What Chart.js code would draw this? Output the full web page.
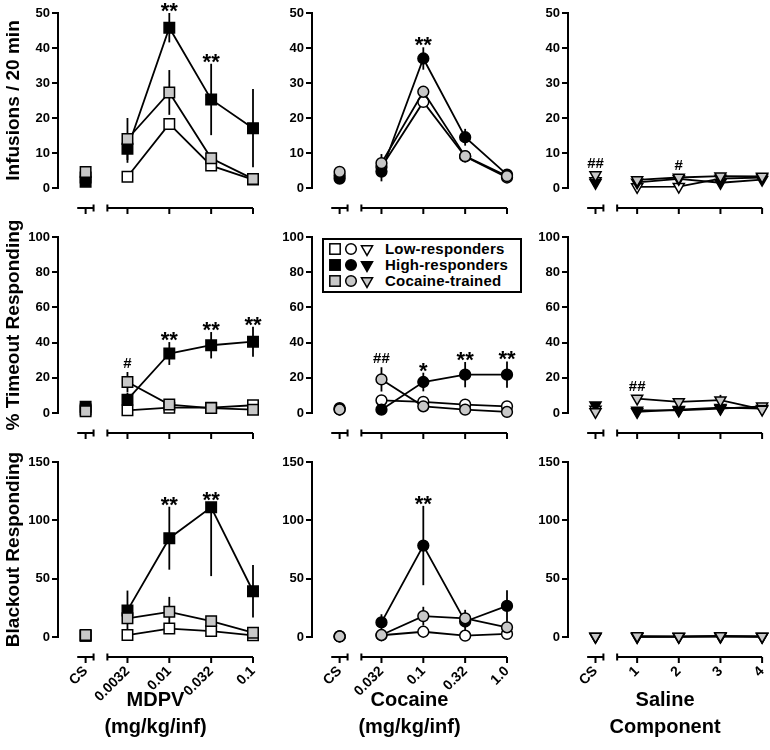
<!DOCTYPE html>
<html>
<head>
<meta charset="utf-8">
<script src="https://cdn.jsdelivr.net/npm/chart.js@4.4.1/dist/chart.umd.min.js"></script>
<style>
  html, body { margin: 0; padding: 0; background: #fff; }
  body { width: 770px; height: 750px; position: relative; overflow: hidden; font-family: 'Liberation Sans', Arial, Helvetica, sans-serif; }
  canvas { position: absolute; }
  #legend { position: absolute; left: 322px; top: 238px; width: 196px; height: 51px; border: 2px solid #000; background: #fff; z-index: 5; }
  #legend .lt { position: absolute; left: 61px; height: 18px; line-height: 18px; font-weight: bold; font-size: 15px; color: #000; white-space: nowrap; letter-spacing: 0.2px; }
  #legend svg { position: absolute; left: 0; top: 0; }
</style>
</head>
<body>
<div id="legend"></div>
<script>
// ---------- categories ----------
const mdpvCats = ['CS', '0.0032', '0.01', '0.032', '0.1'];
const cocCats  = ['CS', '0.032', '0.1', '0.32', '1.0'];
const salCats  = ['CS', '1', '2', '3', '4'];
const groupNames = ['Low-responders', 'High-responders', 'Cocaine-trained'];
const yTitles = ['Infusions / 20 min', '% Timeout Responding', 'Blackout Responding'];
const xTitles = [['MDPV', '(mg/kg/inf)'], ['Cocaine', '(mg/kg/inf)'], ['Saline', 'Component']];
const yMaxes = [50, 100, 150];
const ySteps = [10, 20, 50];

// ---------- Row 1: Infusions / 20 min ----------
const mdpvInfLow     = [3.0, 3.2, 18.3, 6.4, 2.4];
const mdpvInfLowErr  = [0.5, 1.2, 1.6, 0.8, 0.4];
const mdpvInfHigh    = [1.8, 11.2, 45.8, 25.3, 17.1];
const mdpvInfHighErr = [0.6, 4.0, 4.2, 10.2, 11.2];
const mdpvInfCoc     = [4.6, 14.0, 27.3, 8.5, 2.6];
const mdpvInfCocErr  = [0.8, 6.0, 6.4, 1.5, 0.5];
const mdpvInfHighSig = ['', '', '**', '**', ''];

const cocInfLow     = [3.6, 6.0, 24.6, 9.0, 3.0];
const cocInfLowErr  = [0.5, 1.0, 1.5, 0.8, 0.4];
const cocInfHigh    = [2.7, 4.7, 37.0, 14.5, 3.8];
const cocInfHighErr = [0.5, 2.8, 3.2, 2.4, 0.8];
const cocInfCoc     = [4.6, 7.1, 27.5, 9.1, 3.4];
const cocInfCocErr  = [0.5, 2.6, 1.5, 0.8, 0.5];
const cocInfHighSig = ['', '', '**', '', ''];

const salInfLow     = [2.0, 0.3, 0.4, 2.7, 3.0];
const salInfLowErr  = [0.5, 0.3, 0.3, 0.5, 0.5];
const salInfHigh    = [1.5, 1.6, 2.6, 1.5, 2.4];
const salInfHighErr = [1.4, 0.5, 0.5, 0.5, 0.5];
const salInfCoc     = [3.7, 2.3, 3.0, 3.4, 3.3];
const salInfCocErr  = [0.5, 0.5, 0.5, 0.5, 0.5];
const salInfCocSig  = ['##', '', '#', '', ''];

// ---------- Row 2: % Timeout Responding ----------
const mdpvToLow     = [2.0, 1.5, 3.0, 3.0, 4.4];
const mdpvToLowErr  = [0.5, 1.0, 1.0, 0.5, 1.0];
const mdpvToHigh    = [3.5, 7.6, 33.8, 38.5, 40.5];
const mdpvToHighErr = [1.0, 4.0, 6.5, 7.5, 8.5];
const mdpvToCoc     = [1.0, 17.6, 4.8, 2.8, 1.9];
const mdpvToCocErr  = [0.5, 5.7, 1.5, 0.5, 0.5];
const mdpvToHighSig = ['', '', '**', '**', '**'];
const mdpvToCocSig  = ['', '#', '', '', ''];

const cocToLow     = [2.0, 7.2, 6.3, 4.8, 3.8];
const cocToLowErr  = [0.5, 3.0, 1.0, 1.0, 1.0];
const cocToHigh    = [2.8, 1.9, 17.6, 21.8, 21.8];
const cocToHighErr = [0.5, 0.5, 5.3, 7.2, 7.5];
const cocToCoc     = [2.0, 19.1, 3.8, 1.9, 0.6];
const cocToCocErr  = [0.5, 6.9, 1.0, 0.5, 0.5];
const cocToHighSig = ['', '', '*', '**', '**'];
const cocToCocSig  = ['', '##', '', '', ''];

const salToLow     = [2.0, 1.5, 1.5, 2.5, 3.8];
const salToLowErr  = [0.5, 0.5, 0.5, 0.5, 0.5];
const salToHigh    = [4.4, 0.6, 1.9, 3.0, 2.5];
const salToHighErr = [1.0, 0.5, 0.5, 1.5, 0.5];
const salToCoc     = [0.6, 8.2, 6.3, 7.3, 2.0];
const salToCocErr  = [0.5, 1.0, 1.0, 3.0, 0.5];
const salToCocSig  = ['', '##', '', '', ''];

// ---------- Row 3: Blackout Responding ----------
const mdpvBoLow     = [1.0, 1.7, 7.2, 5.1, 1.4];
const mdpvBoLowErr  = [0.5, 1.0, 2.0, 2.0, 1.0];
const mdpvBoHigh    = [1.0, 22.8, 84.7, 111.2, 39.2];
const mdpvBoHighErr = [0.5, 17.0, 27.0, [59.0, 0], 22.5];   // [down, up]
const mdpvBoCoc     = [1.7, 16.0, 21.6, 13.6, 3.7];
const mdpvBoCocErr  = [0.5, 3.0, 12.8, 4.0, 1.0];
const mdpvBoHighSig = ['', '', '**', '**', ''];

const cocBoLow     = [0.5, 1.5, 4.5, 1.1, 2.6];
const cocBoLowErr  = [0.3, 0.5, 1.5, 0.5, 1.0];
const cocBoHigh    = [0.5, 12.5, 78.4, 13.3, 26.6];
const cocBoHighErr = [0.3, 7.0, 34.0, 10.0, 13.5];
const cocBoCoc     = [0.5, 1.7, 17.9, 16.0, 8.3];
const cocBoCocErr  = [0.3, 1.0, 8.0, 4.0, 3.0];
const cocBoHighSig = ['', '', '**', '', ''];

const salBoLow     = [0.2, 0.1, 0.1, 0.3, 0.2];
const salBoLowErr  = [0.2, 0.2, 0.2, 0.2, 0.2];
const salBoHigh    = [0.3, 0.2, 0.3, 0.5, 0.3];
const salBoHighErr = [0.2, 0.2, 0.2, 0.2, 0.2];
const salBoCoc     = [0.5, 0.8, 0.5, 1.0, 0.5];
const salBoCocErr  = [0.3, 0.3, 0.3, 0.3, 0.3];

// ---------- panel table ----------
const colCats = [mdpvCats, cocCats, salCats];
const panelSeries = [
  [ // row 0
    [[mdpvInfLow, mdpvInfLowErr, null], [mdpvInfHigh, mdpvInfHighErr, mdpvInfHighSig], [mdpvInfCoc, mdpvInfCocErr, null]],
    [[cocInfLow, cocInfLowErr, null], [cocInfHigh, cocInfHighErr, cocInfHighSig], [cocInfCoc, cocInfCocErr, null]],
    [[salInfLow, salInfLowErr, null], [salInfHigh, salInfHighErr, null], [salInfCoc, salInfCocErr, salInfCocSig]]
  ],
  [ // row 1
    [[mdpvToLow, mdpvToLowErr, null], [mdpvToHigh, mdpvToHighErr, mdpvToHighSig], [mdpvToCoc, mdpvToCocErr, mdpvToCocSig]],
    [[cocToLow, cocToLowErr, null], [cocToHigh, cocToHighErr, cocToHighSig], [cocToCoc, cocToCocErr, cocToCocSig]],
    [[salToLow, salToLowErr, null], [salToHigh, salToHighErr, null], [salToCoc, salToCocErr, salToCocSig]]
  ],
  [ // row 2
    [[mdpvBoLow, mdpvBoLowErr, null], [mdpvBoHigh, mdpvBoHighErr, mdpvBoHighSig], [mdpvBoCoc, mdpvBoCocErr, null]],
    [[cocBoLow, cocBoLowErr, null], [cocBoHigh, cocBoHighErr, cocBoHighSig], [cocBoCoc, cocBoCocErr, null]],
    [[salBoLow, salBoLowErr, null], [salBoHigh, salBoHighErr, null], [salBoCoc, salBoCocErr, null]]
  ]
];

// ---------- styling / layout ----------
Chart.defaults.font.family = "'Liberation Sans', Arial, Helvetica, sans-serif";
Chart.defaults.color = '#000';

const GRAY = '#c8c8c8';
const groupFill = ['#ffffff', '#000000', GRAY];
const groupOrder = [2, 1, 0];
const markers = [
  { style: 'rect', r: 7.4, rot: 0, half: 5.3 },
  { style: 'circle', r: 5.4, rot: 0, half: 5.4 },
  { style: 'triangle', r: 6.4, rot: 180, half: 3.3 }
];

const colLeft = [0, 270, 525];
const colWidth = [270, 255, 245];
const axisX = [58, 312, 568];
const plotW = 195;
const rowTop = [0, 210, 436];
const rowH = [222, 234, 314];
const plotTop = [13, 237, 462];
const plotBottom = [188, 413, 637];
const X_MIN = -0.66, X_MAX = 4;

function errParts(e) { return Array.isArray(e) ? e : [e, e]; }

function makePlugin(r, c) {
  const series = panelSeries[r][c];
  const cats = colCats[c];
  const mk = markers[c];
  return {
    id: 'prism' + r + c,
    beforeDatasetsDraw(chart) {
      const ctx = chart.ctx, xs = chart.scales.x, ys = chart.scales.y;
      ctx.save();
      ctx.strokeStyle = '#000';
      ctx.lineWidth = 1.8;
      series.forEach(s => {
        s[0].forEach((v, i) => {
          const [dn, up] = errParts(s[1][i]);
          const x = xs.getPixelForValue(i);
          ctx.beginPath();
          ctx.moveTo(x, ys.getPixelForValue(Math.max(v - dn, 0)));
          ctx.lineTo(x, ys.getPixelForValue(v + up));
          ctx.stroke();
        });
      });
      ctx.restore();
    },
    afterDraw(chart) {
      const ctx = chart.ctx, xs = chart.scales.x, ys = chart.scales.y;
      const y = chart.chartArea.bottom + 20;
      const px = v => xs.getPixelForValue(v);
      ctx.save();
      ctx.strokeStyle = '#000';
      ctx.lineWidth = 2;
      ctx.lineCap = 'butt';
      // CS segment
      ctx.beginPath();
      ctx.moveTo(px(-0.2), y); ctx.lineTo(px(0.19), y);
      ctx.moveTo(px(0), y); ctx.lineTo(px(0), y + 6);
      ctx.moveTo(px(0.19), y - 3.5); ctx.lineTo(px(0.19), y + 3.5);
      // dose segment
      ctx.moveTo(px(0.52), y); ctx.lineTo(px(cats.length - 1), y);
      ctx.moveTo(px(0.52), y - 3.5); ctx.lineTo(px(0.52), y + 3.5);
      for (let i = 1; i < cats.length; i++) {
        ctx.moveTo(px(i), y); ctx.lineTo(px(i), y + 6);
      }
      ctx.stroke();
      // significance marks
      ctx.fillStyle = '#000';
      ctx.textAlign = 'center';
      ctx.textBaseline = 'alphabetic';
      series.forEach(s => {
        if (!s[2]) return;
        s[2].forEach((t, i) => {
          if (!t) return;
          const v = s[0][i];
          const up = errParts(s[1][i])[1];
          const anchor = Math.min(ys.getPixelForValue(v + up), ys.getPixelForValue(v) - mk.half);
          const x = px(i);
          if (t.indexOf('*') >= 0) {
            ctx.font = "bold 22px 'Liberation Sans', Arial, sans-serif";
            ctx.fillText(t, x, anchor + 5);
          } else {
            ctx.font = "bold 15px 'Liberation Sans', Arial, sans-serif";
            ctx.fillText(t, x, anchor - 4);
          }
        });
      });
      ctx.restore();
    }
  };
}

function buildPanel(r, c) {
  const cats = colCats[c];
  const mk = markers[c];
  const cv = document.createElement('canvas');
  cv.width = colWidth[c];
  cv.height = rowH[r];
  cv.style.left = colLeft[c] + 'px';
  cv.style.top = rowTop[r] + 'px';
  document.body.appendChild(cv);

  const datasets = panelSeries[r][c].map((s, g) => ({
    label: groupNames[g],
    data: s[0].map((v, i) => ({ x: i, y: v })),
    showLine: true,
    borderColor: '#000',
    borderWidth: 1.8,
    pointStyle: mk.style,
    pointRadius: mk.r,
    pointRotation: mk.rot,
    pointBackgroundColor: groupFill[g],
    pointBorderColor: '#000',
    pointBorderWidth: 1.5,
    clip: false,
    order: groupOrder[g],
    segment: { borderColor: ctx => ctx.p0DataIndex === 0 ? 'rgba(0,0,0,0)' : '#000' }
  }));

  const bottomRow = r === 2;
  const xHeight = rowTop[r] + rowH[r] - plotBottom[r];

  new Chart(cv, {
    type: 'line',
    data: { datasets },
    options: {
      responsive: false,
      devicePixelRatio: 1,
      animation: false,
      events: [],
      layout: {
        padding: {
          left: 0,
          top: plotTop[r] - rowTop[r],
          right: colWidth[c] - (axisX[c] + plotW - colLeft[c]),
          bottom: bottomRow ? 0 : xHeight
        }
      },
      plugins: { legend: { display: false }, tooltip: { enabled: false } },
      scales: {
        x: {
          type: 'linear',
          min: X_MIN,
          max: X_MAX,
          display: bottomRow,
          grid: { display: false, drawTicks: false },
          border: { display: false },
          afterBuildTicks: s => { s.ticks = cats.map((_, i) => ({ value: i })); },
          ticks: {
            autoSkip: false,
            minRotation: 45,
            maxRotation: 45,
            padding: 26,
            color: '#000',
            font: { size: 14, weight: 'bold' },
            callback: v => cats[v]
          },
          title: {
            display: bottomRow,
            text: xTitles[c],
            color: '#000',
            font: { size: 20, weight: 'bold', lineHeight: 1.35 },
            padding: { top: 0, bottom: 9 }
          },
          afterFit: s => {
            if (bottomRow) {
              s.height = xHeight;
              s.paddingLeft = 0;
              s.paddingRight = 0;
            }
          }
        },
        y: {
          min: 0,
          max: yMaxes[r],
          border: { display: true, color: '#000', width: 2 },
          grid: { display: true, drawOnChartArea: false, drawTicks: true, tickLength: 6, color: '#000', lineWidth: 2 },
          ticks: { stepSize: ySteps[r], padding: 2, color: '#000', font: { size: 13, weight: 'bold' } },
          title: {
            display: c === 0,
            text: yTitles[r],
            color: '#000',
            font: { size: 19, weight: 'bold' },
            padding: { top: 2, bottom: 0 }
          },
          afterFit: s => { s.width = axisX[c] - colLeft[c]; }
        }
      }
    },
    plugins: [makePlugin(r, c)]
  });
}

for (let r = 0; r < 3; r++) {
  for (let c = 0; c < 3; c++) buildPanel(r, c);
}

// ---------- legend (HTML) ----------
(function () {
  const lg = document.getElementById('legend');
  const rowsY = [9, 25, 41];
  const svgNS = 'http://www.w3.org/2000/svg';
  const svg = document.createElementNS(svgNS, 'svg');
  svg.setAttribute('width', '60');
  svg.setAttribute('height', '51');
  groupNames.forEach((name, g) => {
    const cy = rowsY[g];
    const fill = groupFill[g];
    const sq = document.createElementNS(svgNS, 'rect');
    sq.setAttribute('x', 11 - 5.2); sq.setAttribute('y', cy - 5.2);
    sq.setAttribute('width', 10.4); sq.setAttribute('height', 10.4);
    sq.setAttribute('fill', fill); sq.setAttribute('stroke', '#000'); sq.setAttribute('stroke-width', 1.5);
    svg.appendChild(sq);
    const ci = document.createElementNS(svgNS, 'circle');
    ci.setAttribute('cx', 27); ci.setAttribute('cy', cy); ci.setAttribute('r', 5.3);
    ci.setAttribute('fill', fill); ci.setAttribute('stroke', '#000'); ci.setAttribute('stroke-width', 1.5);
    svg.appendChild(ci);
    const tr = document.createElementNS(svgNS, 'polygon');
    const tx = 43, rr = 6.4;
    tr.setAttribute('points', `${tx - rr * 0.866},${cy - rr / 2} ${tx + rr * 0.866},${cy - rr / 2} ${tx},${cy + rr}`);
    tr.setAttribute('fill', fill); tr.setAttribute('stroke', '#000'); tr.setAttribute('stroke-width', 1.5);
    svg.appendChild(tr);
    const t = document.createElement('div');
    t.className = 'lt';
    t.style.top = (cy - 9) + 'px';
    t.textContent = name;
    lg.appendChild(t);
  });
  lg.appendChild(svg);
})();
</script>
</body>
</html>
